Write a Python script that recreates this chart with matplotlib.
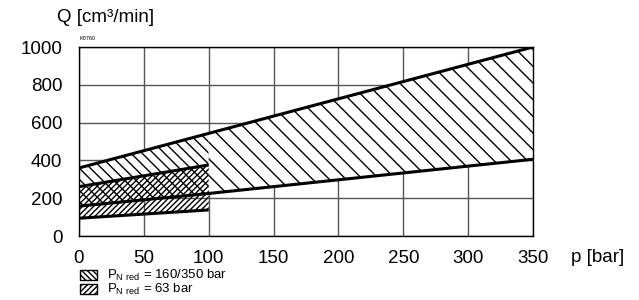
import matplotlib.pyplot as plt
from matplotlib.patches import Rectangle

plt.rcParams["font.family"] = ["Liberation Sans", "DejaVu Sans"]
plt.rcParams["mathtext.fontset"] = "custom"
plt.rcParams["mathtext.rm"] = "Liberation Sans"
plt.rcParams["hatch.linewidth"] = 1.0

# Дані
p_big = [0, 100, 350]
q_big_low = [158, 225, 406]
q_big_high = [360, 543, 1000]

p_small = [0, 100]
q_small_low = [94, 138]
q_small_high = [261, 376]

x_ticks = [0, 50, 100, 150, 200, 250, 300, 350]
y_ticks = [0, 200, 400, 600, 800, 1000]

legend_labels = [r"P$_{\mathrm{N\ red}}$ = 160/350 bar", r"P$_{\mathrm{N\ red}}$ = 63 bar"]

fig = plt.figure(figsize=(6.39, 3.0), dpi=100)
ax = fig.add_axes([0.1236, 0.2133, 0.7105, 0.63])

# Смуга 160/350 bar (ліва частина щільніша)
ax.fill_between(p_big[:2], q_big_low[:2], q_big_high[:2], facecolor="white",
                edgecolor="black", hatch="\\" * 3, linewidth=0)
ax.fill_between(p_big[1:], q_big_low[1:], q_big_high[1:], facecolor="white",
                edgecolor="black", hatch="\\" * 2, linewidth=0)
# Смуга 63 bar
ax.fill_between(p_small, q_small_low, q_small_high, facecolor="none",
                edgecolor="black", hatch="/" * 6, linewidth=0)

for xs, ys in [(p_big, q_big_low), (p_big, q_big_high),
               (p_small, q_small_low), (p_small, q_small_high)]:
    ax.plot(xs, ys, color="black", linewidth=2.2, solid_capstyle="butt")

ax.set_xlim(0, 350)
ax.set_ylim(0, 1000)
ax.set_xticks(x_ticks)
ax.set_yticks(y_ticks)
ax.tick_params(length=0, labelsize=13.5, pad=10)
ax.tick_params(axis="y", pad=12)
ax.grid(True, color="#555555", linewidth=1.0)
ax.set_axisbelow(True)
for s in ax.spines.values():
    s.set_linewidth(1.0)

fig.text(0.089, 0.94, "Q [cm³/min]", fontsize=13.5, va="center", ha="left")
fig.text(0.893, 0.143, "p [bar]", fontsize=13.5, va="center", ha="left")
fig.text(0.124, 0.862, "K0760", fontsize=4, va="bottom", ha="left")

# Легенда
for i, (hatch, label) in enumerate(zip(["\\" * 6, "/" * 6], legend_labels)):
    yc = 1 - (275 + 14 * i) / 300
    fig.patches.append(Rectangle((0.125, yc - 0.017), 0.027, 0.033, transform=fig.transFigure,
                                 facecolor="white", edgecolor="black", hatch=hatch,
                                 linewidth=1.0))
    fig.text(0.1675, yc, label, fontsize=9.5, va="center", ha="left")

fig.savefig("out.png", dpi=100)
